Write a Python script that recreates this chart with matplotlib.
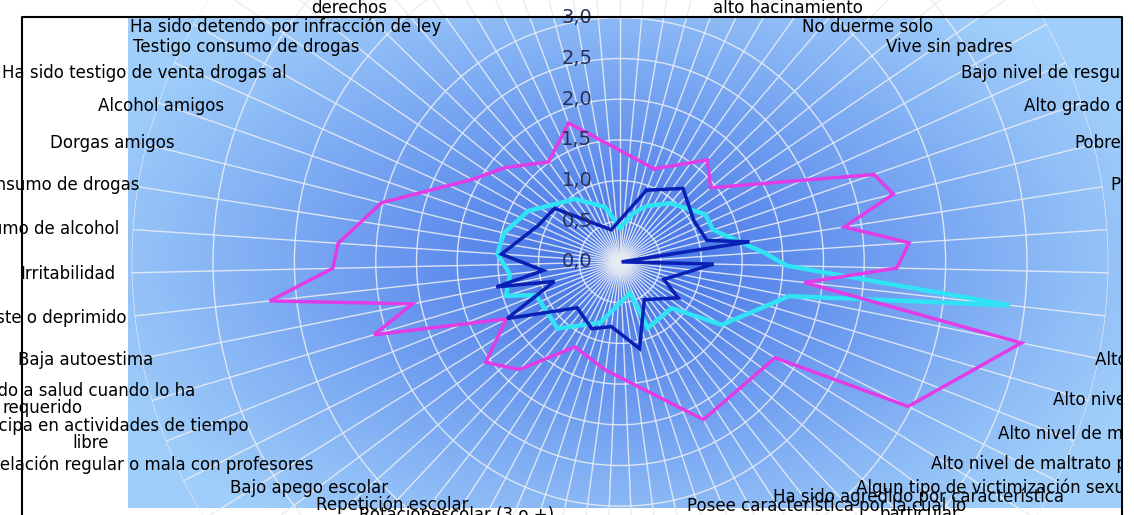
import numpy as np
import matplotlib.pyplot as plt
from matplotlib.patches import Rectangle
from matplotlib.lines import Line2D

nan = np.nan
N = 71  # categories (spokes); names are shown on every other spoke

labels = [
    "", "", "Vive en\nalto hacinamiento", "", "No duerme solo", "",
    "Vive sin padres", "", "Bajo nivel de resguardo", "",
    "Alto grado de desorganización", "", "Pobreza", "", "Pobreza extrema", "",
    "Familia monoparental", "", "Ausencia de figura paterna", "",
    "Violencia intrafamiliar", "", "Alto nivel de violencia intrafamiliar", "",
    "Alto nivel de maltrato psicológico", "", "Alto nivel de maltrato físico", "",
    "Alto nivel de maltrato presenciado", "",
    "Algun tipo de victimización sexual", "",
    "Ha sido agredido por característica\nparticular", "",
    "Posee característica por la cual lo\ndiscriminan", "", "",
    "Rotacionescolar (3 o +)", "", "Repetición escolar",
    "", "Bajo apego escolar", "", "Relación regular o mala con profesores", "",
    "No participa en actividades de tiempo\nlibre", "",
    "No ha accedido a salud cuando lo ha\nrequerido", "", "Baja autoestima",
    "", "Se siente triste o deprimido", "", "Irritabilidad", "",
    "Consumo de alcohol", "", "Consumo de drogas", "", "Dorgas amigos",
    "", "Alcohol amigos", "", "Ha sido testigo de venta drogas al", "",
    "Testigo consumo de drogas", "", "Ha sido detendo por infracción de ley", "",
    "Ha sufrido algún tipo de vulneración de sus\nderechos",
    "",
]

r_ticks = ["0,0", "0,5", "1,0", "1,5", "2,0", "2,5", "3,0"]

# one value per category, nan = empty cell (line joins the neighbours)
magenta = [
    nan, nan, nan, nan, 1.22, nan, nan, nan, 1.65, nan,
    1.44, nan, nan, nan, 3.30, 3.46, 2.79, 3.56, 3.40, 2.28,
    5.03, nan, nan, 3.96, 2.24, nan, nan, nan, nan, nan,
    2.19, nan, nan, nan, nan, nan, nan, 1.34, nan, nan,
    nan, 1.18, nan, nan, 1.81, nan, 2.06, nan, 1.56, nan,
    3.15, 2.60, 4.33, 3.53, 3.47, nan, 3.02, nan, nan, 2.08,
    nan, 1.83, nan, nan, 1.51, nan, nan, 1.82, nan, nan,
    nan,
]
cyan = [
    0.42, nan, nan, 0.62, nan, 0.76, nan, nan, 0.95, nan,
    nan, nan, 1.20, nan, 1.21, nan, nan, 1.77, 2.05, 4.82,
    2.12, nan, nan, nan, 1.47, nan, 0.85, nan, nan, nan,
    nan, 0.88, 0.40, nan, nan, nan, nan, nan, nan, 0.78,
    nan, nan, nan, nan, 1.12, nan, nan, nan, nan, 1.11,
    1.46, nan, 1.36, nan, 1.51, nan, 1.47, nan, nan, 1.29,
    nan, nan, nan, nan, 0.95, nan, nan, nan, 0.70, nan,
    nan,
]
dark_blue = [
    nan, nan, nan, nan, 0.94, nan, nan, nan, 1.19, nan,
    nan, nan, 1.04, nan, nan, 1.10, 1.61, 0.02, 1.15, nan,
    nan, nan, 0.58, nan, 0.84, nan, nan, nan, nan, 0.55,
    nan, nan, nan, 1.09, nan, nan, nan, 0.80, nan, nan,
    0.89, nan, nan, nan, 0.77, nan, nan, nan, 1.55, nan,
    0.84, 1.55, 0.95, nan, 1.46, nan, nan, nan, 1.10, nan,
    nan, 1.04, nan, nan, nan, nan, nan, nan, 0.41, nan,
    nan,
]

W, H = 1134, 515
CX, CY = 620, 262          # chart centre, px from top-left
PX = 81.4                  # px per 1.0
FONT = "DejaVu Sans"

fig = plt.figure(figsize=(W / 100, H / 100), dpi=100)
fig.patch.set_facecolor("white")

# blue plot-area gradient
bx0, bx1, by0, by1 = 128, 1122, 17, 508
bg = fig.add_axes([bx0 / W, 1 - by1 / H, (bx1 - bx0) / W, (by1 - by0) / H])
xx, yy = np.meshgrid(np.arange(bx0, bx1), np.arange(by0, by1))
t = np.sqrt(((xx - CX) / 560.0) ** 2 + ((yy - CY) / 320.0) ** 2)
t = np.clip(t, 0, 1) ** 0.9
c0 = np.array([62, 108, 230]) / 255.0
c1 = np.array([160, 206, 250]) / 255.0
img = c0[None, None, :] * (1 - t[..., None]) + c1[None, None, :] * t[..., None]
glow = np.exp(-(((xx - CX) ** 2 + (yy - CY) ** 2) / (2 * 7.0 ** 2)))
peach = np.array([250, 205, 150]) / 255.0
img = img * (1 - glow[..., None]) + peach[None, None, :] * glow[..., None]
bg.imshow(img, aspect="auto", interpolation="bilinear")
bg.axis("off")

# polar axes, bigger than the figure (outer rings are cut off)
R = 6.0 * PX
ax = fig.add_axes([(CX - R) / W, (H - CY - R) / H, 2 * R / W, 2 * R / H], projection="polar")
ax.set_facecolor("none")
ax.set_theta_zero_location("N")
ax.set_theta_direction(-1)
ax.set_ylim(0, 6)
ax.set_thetagrids(np.arange(N) * 360.0 / N, labels=[""] * N)
ax.set_rgrids([0.5, 1, 1.5, 2, 2.5, 3, 4, 5, 6], labels=[""] * 9)
ax.grid(color="#e6ecf4", lw=1.0, alpha=0.9)
ax.spines["polar"].set_visible(False)

theta = np.arange(N) * 2 * np.pi / N


def draw(vals, color, lw):
    v = np.array(vals, dtype=float)
    m = ~np.isnan(v)
    th = np.append(theta[m], theta[m][0])
    rv = np.append(v[m], v[m][0])
    ax.plot(th, rv, color=color, lw=lw, solid_joinstyle="miter")


draw(cyan, "#2fe3f5", 3.2)
draw(magenta, "#e23ce6", 2.5)
draw(dark_blue, "#0a1fb4", 2.5)

for i, lbl in enumerate(r_ticks):
    ax.annotate(lbl, xy=(0, i * 0.5), xytext=(-20, 0), textcoords="offset points",
                ha="right", va="center", fontsize=14, color="#2a2f55", family=FONT)

# category labels placed round an ellipse (pixel coords)
for k, lbl in enumerate(labels):
    if not lbl:
        continue
    a = theta[k]
    s, c = np.sin(a), np.cos(a)
    if s > 0:
        x, ha = CX + (515 + 12 * c) * s, "left"
    else:
        x, ha = CX + (505 + 10 * c) * s, "right"
    y = 269 - (258 if c > 0 else 248) * c
    va = "center"
    if c > 0.9 and "\n" in lbl:
        va, y = "bottom", y + 2
    fig.text(x / W, 1 - y / H, lbl, ha=ha, va=va, fontsize=12,
             family=FONT, color="black", linespacing=0.95,
             multialignment="center")

# white margin at the right and chart frame
fig.add_artist(Rectangle((1123 / W, 0), 20 / W, 1, transform=fig.transFigure,
                         facecolor="white", edgecolor="none", zorder=10))
frame_x = [22 / W, 22 / W, 1122 / W, 1122 / W]
frame_y = [0, 1 - 17 / H, 1 - 17 / H, 0]
fig.add_artist(Line2D(frame_x, frame_y, color="black", lw=1.5, zorder=11))

fig.savefig("out.png", dpi=100)
